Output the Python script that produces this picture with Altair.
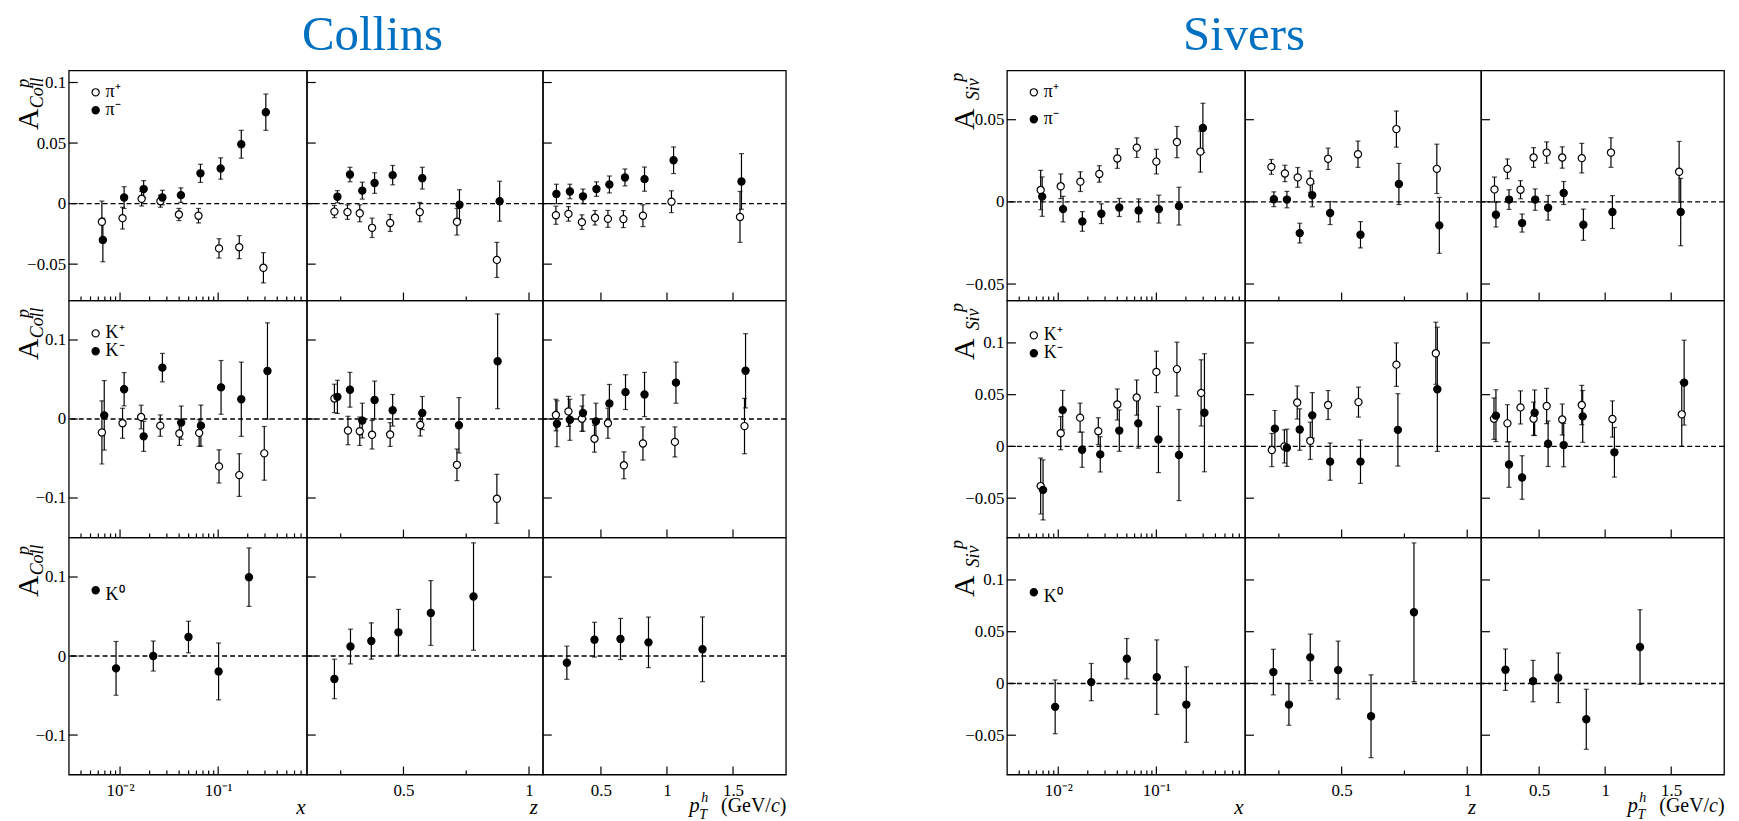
import altair as alt
import pandas as pd

FONT = "Liberation Serif"

# ======================= DATA =======================
# ---- Collins, pions ----
coll_pip_x_pos = [0.00653, 0.0106, 0.0166, 0.0258, 0.0398, 0.063, 0.102, 0.164, 0.289]
coll_pip_x_val = [-0.015, -0.012, 0.004, 0.002, -0.009, -0.010, -0.037, -0.036, -0.053]
coll_pip_x_err = [0.017, 0.009, 0.006, 0.005, 0.005, 0.006, 0.008, 0.0095, 0.0125]
coll_pim_x_pos = [0.00668, 0.011, 0.0174, 0.027, 0.0417, 0.066, 0.106, 0.172, 0.306]
coll_pim_x_val = [-0.030, 0.005, 0.012, 0.005, 0.007, 0.025, 0.029, 0.049, 0.0755]
coll_pim_x_err = [0.018, 0.009, 0.007, 0.006, 0.006, 0.0075, 0.0088, 0.0115, 0.015]
coll_pip_z_pos = [0.225, 0.277, 0.326, 0.375, 0.447, 0.565, 0.713, 0.872]
coll_pip_z_val = [-0.0066, -0.007, -0.008, -0.020, -0.016, -0.007, -0.015, -0.0465]
coll_pip_z_err = [0.005, 0.006, 0.007, 0.008, 0.007, 0.008, 0.011, 0.0145]
coll_pim_z_pos = [0.237, 0.287, 0.336, 0.385, 0.457, 0.575, 0.723, 0.883]
coll_pim_z_val = [0.0057, 0.024, 0.0107, 0.017, 0.0235, 0.021, -0.001, 0.002]
coll_pim_z_err = [0.005, 0.006, 0.007, 0.0085, 0.008, 0.009, 0.0125, 0.0165]
coll_pip_pt_pos = [0.159, 0.254, 0.356, 0.455, 0.553, 0.67, 0.818, 1.034, 1.553]
coll_pip_pt_val = [-0.0096, -0.0085, -0.0153, -0.0117, -0.0126, -0.0128, -0.010, 0.0016, -0.011]
coll_pip_pt_err = [0.0075, 0.006, 0.006, 0.006, 0.007, 0.007, 0.009, 0.009, 0.021]
coll_pim_pt_pos = [0.163, 0.265, 0.364, 0.466, 0.564, 0.682, 0.83, 1.05, 1.564]
coll_pim_pt_val = [0.008, 0.010, 0.006, 0.012, 0.0158, 0.0216, 0.0202, 0.0358, 0.0183]
coll_pim_pt_err = [0.008, 0.006, 0.006, 0.006, 0.007, 0.007, 0.010, 0.011, 0.023]

# ---- Collins, charged kaons ----
coll_kp_x_pos = [0.00653, 0.0106, 0.0164, 0.0257, 0.0402, 0.064, 0.102, 0.164, 0.295]
coll_kp_x_val = [-0.017, -0.0054, 0.0025, -0.0084, -0.0184, -0.0176, -0.060, -0.071, -0.0435]
coll_kp_x_err = [0.040, 0.019, 0.015, 0.0135, 0.015, 0.017, 0.021, 0.027, 0.034]
coll_km_x_pos = [0.0069, 0.011, 0.0174, 0.027, 0.042, 0.0667, 0.107, 0.172, 0.318]
coll_km_x_val = [0.0046, 0.0377, -0.022, 0.065, -0.0046, -0.0084, 0.040, 0.025, 0.0607]
coll_km_x_err = [0.044, 0.021, 0.019, 0.018, 0.021, 0.026, 0.034, 0.047, 0.061]
coll_kp_z_pos = [0.225, 0.279, 0.326, 0.375, 0.447, 0.567, 0.713, 0.872]
coll_kp_z_val = [0.026, -0.0146, -0.0155, -0.020, -0.0197, -0.0075, -0.058, -0.101]
coll_kp_z_err = [0.018, 0.018, 0.018, 0.018, 0.015, 0.014, 0.020, 0.031]
coll_km_z_pos = [0.237, 0.287, 0.336, 0.385, 0.457, 0.575, 0.721, 0.875]
coll_km_z_val = [0.028, 0.037, -0.002, 0.024, 0.011, 0.0075, -0.008, 0.073]
coll_km_z_err = [0.021, 0.022, 0.022, 0.024, 0.020, 0.021, 0.035, 0.060]
coll_kp_pt_pos = [0.159, 0.254, 0.356, 0.451, 0.553, 0.674, 0.818, 1.06, 1.587]
coll_kp_pt_val = [0.005, 0.0096, 0.0004, -0.025, -0.0054, -0.0586, -0.031, -0.029, -0.009]
coll_kp_pt_err = [0.020, 0.019, 0.016, 0.017, 0.019, 0.017, 0.021, 0.019, 0.035]
coll_km_pt_pos = [0.167, 0.265, 0.364, 0.462, 0.564, 0.686, 0.83, 1.068, 1.595]
coll_km_pt_val = [-0.006, -0.001, 0.0075, -0.003, 0.0197, 0.034, 0.031, 0.046, 0.061]
coll_km_pt_err = [0.029, 0.026, 0.023, 0.023, 0.024, 0.022, 0.028, 0.026, 0.047]

# ---- Collins, neutral kaons ----
coll_k0_x_pos = [0.0091, 0.0218, 0.0498, 0.101, 0.206]
coll_k0_x_val = [-0.0156, 0.0, 0.024, -0.0195, 0.0998]
coll_k0_x_err = [0.034, 0.019, 0.020, 0.036, 0.037]
coll_k0_z_pos = [0.225, 0.289, 0.372, 0.48, 0.609, 0.779]
coll_k0_z_val = [-0.029, 0.012, 0.019, 0.030, 0.0545, 0.0753]
coll_k0_z_err = [0.025, 0.022, 0.023, 0.029, 0.041, 0.068]
coll_k0_pt_pos = [0.242, 0.451, 0.648, 0.86, 1.269]
coll_k0_pt_val = [-0.0085, 0.0207, 0.0216, 0.0173, 0.0085]
coll_k0_pt_err = [0.021, 0.022, 0.026, 0.032, 0.041]

# ---- Sivers, pions ----
siv_pip_x_pos = [0.00662, 0.0106, 0.0168, 0.0262, 0.040, 0.0632, 0.100, 0.162, 0.281]
siv_pip_x_val = [0.0072, 0.0095, 0.0123, 0.017, 0.0264, 0.033, 0.0245, 0.0364, 0.0306]
siv_pip_x_err = [0.012, 0.0075, 0.006, 0.005, 0.006, 0.006, 0.0075, 0.0095, 0.0125]
siv_pim_x_pos = [0.00686, 0.0112, 0.0176, 0.0275, 0.0419, 0.066, 0.106, 0.170, 0.298]
siv_pim_x_val = [0.0032, -0.0044, -0.0119, -0.0072, -0.0034, -0.0052, -0.0044, -0.0026, 0.045]
siv_pim_x_err = [0.012, 0.0078, 0.006, 0.006, 0.0055, 0.007, 0.0085, 0.0115, 0.015]
siv_pip_z_pos = [0.220, 0.274, 0.325, 0.375, 0.446, 0.565, 0.718, 0.879]
siv_pip_z_val = [0.0213, 0.0173, 0.0149, 0.0123, 0.0262, 0.029, 0.0443, 0.0201]
siv_pip_z_err = [0.0045, 0.005, 0.006, 0.0065, 0.0065, 0.008, 0.011, 0.015]
siv_pim_z_pos = [0.230, 0.282, 0.333, 0.383, 0.454, 0.575, 0.728, 0.889]
siv_pim_z_val = [0.0016, 0.0014, -0.019, 0.004, -0.0068, -0.020, 0.0109, -0.0143]
siv_pim_z_err = [0.0045, 0.005, 0.006, 0.007, 0.007, 0.008, 0.0125, 0.017]
siv_pip_pt_pos = [0.162, 0.260, 0.359, 0.458, 0.557, 0.675, 0.823, 1.044, 1.560]
siv_pip_pt_val = [0.0076, 0.0201, 0.0074, 0.027, 0.030, 0.027, 0.0266, 0.030, 0.0183]
siv_pip_pt_err = [0.0075, 0.006, 0.0055, 0.006, 0.0065, 0.0065, 0.009, 0.009, 0.0185]
siv_pim_pt_pos = [0.173, 0.272, 0.371, 0.470, 0.568, 0.686, 0.835, 1.055, 1.572]
siv_pim_pt_val = [-0.0078, 0.0014, -0.0129, 0.0014, -0.0036, 0.0054, -0.0139, -0.0062, -0.0062]
siv_pim_pt_err = [0.0075, 0.006, 0.0055, 0.0065, 0.0075, 0.007, 0.0095, 0.010, 0.0205]

# ---- Sivers, charged kaons ----
siv_kp_x_pos = [0.00662, 0.0106, 0.0167, 0.0256, 0.040, 0.063, 0.100, 0.162, 0.286]
siv_kp_x_val = [-0.0383, 0.0128, 0.0278, 0.0147, 0.0405, 0.0472, 0.072, 0.0747, 0.0517]
siv_kp_x_err = [0.027, 0.016, 0.014, 0.013, 0.015, 0.017, 0.020, 0.026, 0.032]
siv_km_x_pos = [0.0070, 0.0111, 0.0175, 0.0268, 0.0419, 0.0654, 0.105, 0.170, 0.309]
siv_km_x_val = [-0.042, 0.0351, -0.0032, -0.0077, 0.0153, 0.0223, 0.0067, -0.0083, 0.0325]
siv_km_x_err = [0.029, 0.019, 0.017, 0.017, 0.020, 0.024, 0.032, 0.044, 0.057]
siv_kp_z_pos = [0.222, 0.272, 0.323, 0.375, 0.446, 0.567, 0.718, 0.875]
siv_kp_z_val = [-0.0035, 0.0, 0.0424, 0.0054, 0.040, 0.0428, 0.079, 0.090]
siv_kp_z_err = [0.016, 0.016, 0.016, 0.018, 0.014, 0.0145, 0.021, 0.030]
siv_km_z_pos = [0.234, 0.282, 0.333, 0.383, 0.454, 0.575, 0.724, 0.881]
siv_km_z_val = [0.0172, -0.0013, 0.0163, 0.030, -0.0147, -0.0147, 0.016, 0.0552]
siv_km_z_err = [0.0175, 0.018, 0.020, 0.022, 0.018, 0.021, 0.035, 0.060]
siv_kp_pt_pos = [0.158, 0.260, 0.359, 0.458, 0.557, 0.675, 0.823, 1.055, 1.580]
siv_kp_pt_val = [0.0268, 0.0223, 0.0377, 0.0268, 0.039, 0.026, 0.040, 0.0265, 0.031]
siv_kp_pt_err = [0.020, 0.018, 0.016, 0.016, 0.017, 0.015, 0.019, 0.0175, 0.031]
siv_km_pt_pos = [0.173, 0.272, 0.371, 0.466, 0.568, 0.686, 0.830, 1.070, 1.598]
siv_km_pt_val = [0.0297, -0.0175, -0.030, 0.0325, 0.0026, 0.0013, 0.029, -0.0057, 0.0616]
siv_km_pt_err = [0.025, 0.022, 0.021, 0.022, 0.022, 0.021, 0.025, 0.024, 0.041]

# ---- Sivers, neutral kaons ----
siv_k0_x_pos = [0.0093, 0.0217, 0.050, 0.101, 0.202]
siv_k0_x_val = [-0.0226, 0.0013, 0.0239, 0.0061, -0.0204]
siv_k0_x_err = [0.026, 0.018, 0.0195, 0.036, 0.0365]
siv_k0_z_pos = [0.228, 0.290, 0.375, 0.486, 0.617, 0.788]
siv_k0_z_val = [0.011, -0.0204, 0.0252, 0.0129, -0.0317, 0.0688]
siv_k0_z_err = [0.022, 0.020, 0.0225, 0.028, 0.040, 0.067]
siv_k0_pt_pos = [0.245, 0.454, 0.645, 0.857, 1.264]
siv_k0_pt_val = [0.0133, 0.0023, 0.0055, -0.0346, 0.0352]
siv_k0_pt_err = [0.020, 0.020, 0.024, 0.029, 0.036]

# axis ranges and tick values
x_domains = [[0.003, 0.8], [0.115, 1.055], [0.06, 1.9]]
x_major_ticks = [[0.01, 0.1], [0.5, 1.0], [0.5, 1.0, 1.5]]
x_minor_ticks = [[0.004, 0.005, 0.006, 0.007, 0.008, 0.009,
                  0.02, 0.03, 0.04, 0.05, 0.06, 0.07, 0.08, 0.09,
                  0.2, 0.3, 0.4, 0.5, 0.6, 0.7], [0.25, 0.75], []]
coll_y_domains = [[-0.08, 0.11], [-0.15, 0.15], [-0.15, 0.15]]
coll_y_ticks = [[-0.05, 0.0, 0.05, 0.1], [-0.1, 0.0, 0.1], [-0.1, 0.0, 0.1]]
siv_y_domains = [[-0.06, 0.08], [-0.088, 0.141], [-0.088, 0.141]]
siv_y_ticks = [[-0.05, 0.0, 0.05], [-0.05, 0.0, 0.05, 0.1], [-0.05, 0.0, 0.05, 0.1]]
legend_names = [["π⁺", "π⁻"], ["K⁺", "K⁻"], ["K⁰"]]

# ======================= LAYOUT =======================
W = [239, 237, 244]
H = [231, 238, 238]
GAP = 222

BLOCKS = {
    "coll": dict(
        title="Collins", title_x=66, sub="Coll",
        ydom=coll_y_domains, yticks=coll_y_ticks,
        A_x=-31, sub_x=-26, sub_y=38, p_x=-40, p_y=13,
        leg_y=[[22, 40], [33, 51], [53]],
        series=[
            [[(coll_pip_x_pos, coll_pip_x_val, coll_pip_x_err, False), (coll_pim_x_pos, coll_pim_x_val, coll_pim_x_err, True)],
             [(coll_pip_z_pos, coll_pip_z_val, coll_pip_z_err, False), (coll_pim_z_pos, coll_pim_z_val, coll_pim_z_err, True)],
             [(coll_pip_pt_pos, coll_pip_pt_val, coll_pip_pt_err, False), (coll_pim_pt_pos, coll_pim_pt_val, coll_pim_pt_err, True)]],
            [[(coll_kp_x_pos, coll_kp_x_val, coll_kp_x_err, False), (coll_km_x_pos, coll_km_x_val, coll_km_x_err, True)],
             [(coll_kp_z_pos, coll_kp_z_val, coll_kp_z_err, False), (coll_km_z_pos, coll_km_z_val, coll_km_z_err, True)],
             [(coll_kp_pt_pos, coll_kp_pt_val, coll_kp_pt_err, False), (coll_km_pt_pos, coll_km_pt_val, coll_km_pt_err, True)]],
            [[(coll_k0_x_pos, coll_k0_x_val, coll_k0_x_err, True)],
             [(coll_k0_z_pos, coll_k0_z_val, coll_k0_z_err, True)],
             [(coll_k0_pt_pos, coll_k0_pt_val, coll_k0_pt_err, True)]],
        ]),
    "siv": dict(
        title="Sivers", title_x=-1, sub="Siv",
        ydom=siv_y_domains, yticks=siv_y_ticks,
        A_x=-33, sub_x=-28, sub_y=30, p_x=-44, p_y=7,
        leg_y=[[22, 49], [35, 53], [55]],
        series=[
            [[(siv_pip_x_pos, siv_pip_x_val, siv_pip_x_err, False), (siv_pim_x_pos, siv_pim_x_val, siv_pim_x_err, True)],
             [(siv_pip_z_pos, siv_pip_z_val, siv_pip_z_err, False), (siv_pim_z_pos, siv_pim_z_val, siv_pim_z_err, True)],
             [(siv_pip_pt_pos, siv_pip_pt_val, siv_pip_pt_err, False), (siv_pim_pt_pos, siv_pim_pt_val, siv_pim_pt_err, True)]],
            [[(siv_kp_x_pos, siv_kp_x_val, siv_kp_x_err, False), (siv_km_x_pos, siv_km_x_val, siv_km_x_err, True)],
             [(siv_kp_z_pos, siv_kp_z_val, siv_kp_z_err, False), (siv_km_z_pos, siv_km_z_val, siv_km_z_err, True)],
             [(siv_kp_pt_pos, siv_kp_pt_val, siv_kp_pt_err, False), (siv_km_pt_pos, siv_km_pt_val, siv_km_pt_err, True)]],
            [[(siv_k0_x_pos, siv_k0_x_val, siv_k0_x_err, True)],
             [(siv_k0_z_pos, siv_k0_z_val, siv_k0_z_err, True)],
             [(siv_k0_pt_pos, siv_k0_pt_val, siv_k0_pt_err, True)]],
        ]),
}

ONE = pd.DataFrame({"a": [0]})


def label(text, x, y, size, italic=False, angle=0, align="left", baseline="alphabetic", color="black"):
    kw = dict(text=text, font=FONT, fontSize=size, align=align, baseline=baseline, color=color)
    if italic:
        kw["fontStyle"] = "italic"
    if angle:
        kw["angle"] = angle
    return alt.Chart(ONE).mark_text(**kw).encode(x=alt.value(x), y=alt.value(y))


def panel(bname, r, c):
    B = BLOCKS[bname]
    w, h = W[c], H[r]
    xs = alt.Scale(type="log" if c == 0 else "linear", domain=x_domains[c], nice=False, zero=False)
    ys = alt.Scale(domain=B["ydom"][r], nice=False, zero=False)
    if r == 2:
        if c == 0:
            lab_expr = "datum.value < 0.05 ? '10⁻²' : '10⁻¹'"
        else:
            lab_expr = "format(datum.value, '~g')"
        xaxis = alt.Axis(values=x_major_ticks[c], labelExpr=lab_expr, ticks=False, domain=False, grid=False,
                         title=None, labelFont=FONT, labelFontSize=17, labelColor="black",
                         labelPadding=8, labelFlush=False, labelOverlap=False)
    else:
        xaxis = None
    if c == 0:
        yaxis = alt.Axis(values=B["yticks"][r], format="~g", ticks=False, domain=False, grid=False,
                         title=None, labelFont=FONT, labelFontSize=17, labelColor="black",
                         labelPadding=3, labelFlush=False, labelOverlap=False)
    else:
        yaxis = None

    def X(f):
        return alt.X(f, type="quantitative", scale=xs, axis=xaxis)

    def Y(f):
        return alt.Y(f, type="quantitative", scale=ys, axis=yaxis)

    layers = []
    layers.append(alt.Chart(pd.DataFrame({"v": [0.0]})).mark_rule(
        color="black", strokeDash=[5, 3], strokeWidth=1.4).encode(y=Y("v")))
    layers.append(alt.Chart(pd.DataFrame({"v": B["yticks"][r]})).mark_rule(
        color="black", strokeWidth=1.2).encode(y=Y("v"), x=alt.value(0), x2=alt.value(9)))
    layers.append(alt.Chart(pd.DataFrame({"v": x_major_ticks[c]})).mark_rule(
        color="black", strokeWidth=1.2).encode(x=X("v"), y=alt.value(h), y2=alt.value(h - 8)))
    if x_minor_ticks[c]:
        layers.append(alt.Chart(pd.DataFrame({"v": x_minor_ticks[c]})).mark_rule(
            color="black", strokeWidth=1.2).encode(x=X("v"), y=alt.value(h), y2=alt.value(h - 4)))

    ser = B["series"][r][c]
    frames = []
    for pos, val, err, filled in ser:
        df = pd.DataFrame({"pos": pos, "val": val})
        df["lo"] = [v - e for v, e in zip(val, err)]
        df["hi"] = [v + e for v, e in zip(val, err)]
        frames.append((df, filled))
    for df, filled in frames:
        base = alt.Chart(df)
        layers.append(base.mark_rule(color="black", strokeWidth=1.2).encode(
            x=X("pos"), y=Y("lo"), y2=alt.Y2("hi")))
        layers.append(base.mark_tick(orient="horizontal", size=5, thickness=1.2, color="black").encode(
            x=X("pos"), y=Y("lo")))
        layers.append(base.mark_tick(orient="horizontal", size=5, thickness=1.2, color="black").encode(
            x=X("pos"), y=Y("hi")))
    for df, filled in frames:
        layers.append(alt.Chart(df).mark_point(
            shape="circle", filled=True, fill=("black" if filled else "white"), stroke="black",
            strokeWidth=1.2, size=52, opacity=1).encode(x=X("pos"), y=Y("val")))

    if c == 0:
        names = legend_names[r]
        for i, nm in enumerate(names):
            ly = B["leg_y"][r][i]
            filled = (len(names) == 1) or i == 1
            layers.append(alt.Chart(ONE).mark_point(
                shape="circle", filled=True, fill=("black" if filled else "white"), stroke="black",
                strokeWidth=1.2, size=52, opacity=1).encode(x=alt.value(27), y=alt.value(ly)))
            dy = 5 if len(names) == 1 else 0
            layers.append(label(nm, 37, ly + dy, 18, baseline="middle"))
        layers.append(label("A", B["A_x"], 49, 30, angle=270, align="center"))
        layers.append(label(B["sub"], B["sub_x"], B["sub_y"], 18, italic=True, angle=270, align="left"))
        layers.append(label("p", B["p_x"], B["p_y"], 18, italic=True, angle=270, align="center"))

    if r == 0 and c == 1:
        layers.append(label(B["title"], B["title_x"], -20, 49, align="center", color="#0070C0"))

    if r == 2:
        if c == 0:
            layers.append(label("x", w - 6, h + 34, 21, italic=True, align="center", baseline="middle"))
        elif c == 1:
            layers.append(label("z", w - 9, h + 34, 21, italic=True, align="center", baseline="middle"))
        else:
            layers.append(label("p", 147, h + 38, 21, italic=True))
            layers.append(label("h", 159, h + 28, 14, italic=True))
            layers.append(label("T", 157, h + 45, 14, italic=True))
            layers.append(label("(GeV/", 179, h + 38, 20))
            layers.append(label("c", 229, h + 38, 20, italic=True))
            layers.append(label(")", 238, h + 38, 20))

    return alt.layer(*layers).properties(width=w, height=h)


def spacer(r):
    return alt.Chart(ONE).mark_point(opacity=0).encode(
        x=alt.value(0), y=alt.value(0)
    ).properties(width=GAP, height=H[r],
                 view=alt.ViewBackground(stroke="transparent", fill="transparent"))


cells = []
for r in range(3):
    cells += [panel("coll", r, c) for c in range(3)]
    cells.append(spacer(r))
    cells += [panel("siv", r, c) for c in range(3)]

chart = alt.concat(*cells, columns=7, spacing=0, bounds="flush", align="each").configure_view(
    stroke="black", strokeWidth=1.3
).properties(padding={"left": 5, "top": 1, "right": 5, "bottom": 0}, background="white")

chart.save("out.html", embed_options={"renderer": "svg", "actions": False})
